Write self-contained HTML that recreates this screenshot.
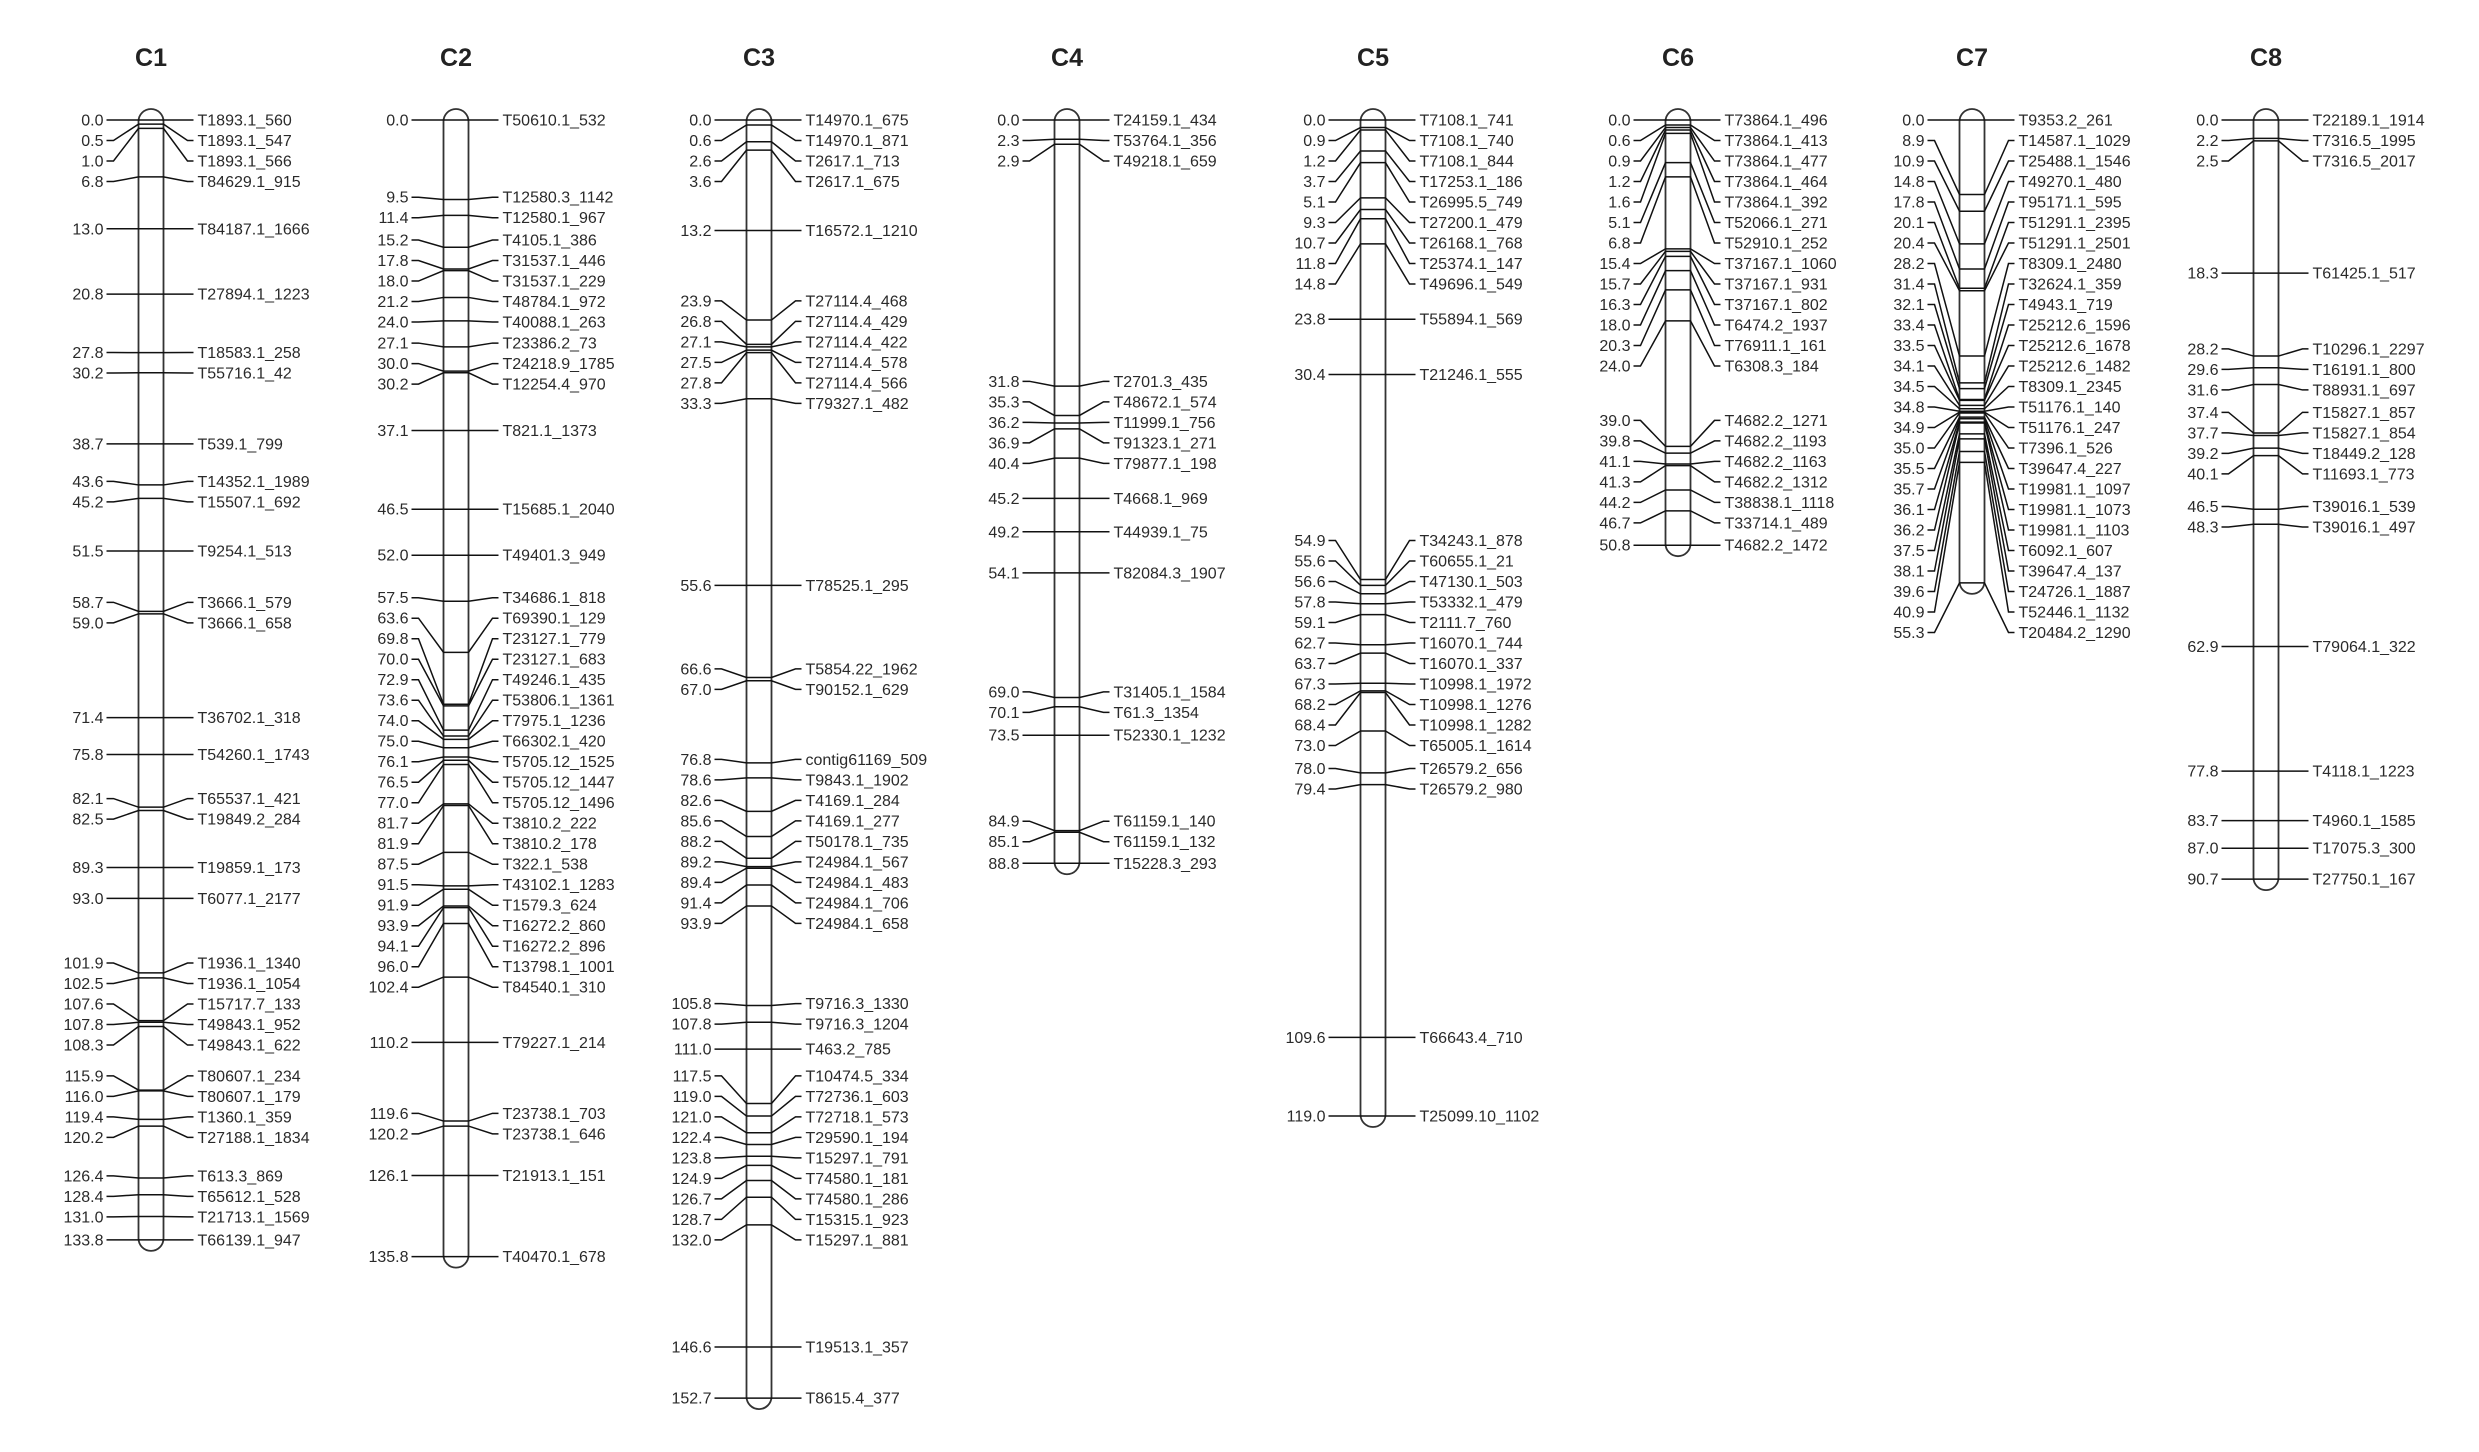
<!DOCTYPE html>
<html><head><meta charset="utf-8"><style>
html,body{margin:0;padding:0;background:#fff;}
svg{display:block;}
text{font-family:"Liberation Sans",Arial,sans-serif;fill:#2a2a2a;}
</style></head><body>
<svg id="s" width="2479" height="1452" viewBox="0 0 2479 1452" xmlns="http://www.w3.org/2000/svg"></svg>
<script>
var D=[
["C1",151,[[0.0,"T1893.1_560"],[0.5,"T1893.1_547"],[1.0,"T1893.1_566"],[6.8,"T84629.1_915"],[13.0,"T84187.1_1666"],[20.8,"T27894.1_1223"],[27.8,"T18583.1_258"],[30.2,"T55716.1_42"],[38.7,"T539.1_799"],[43.6,"T14352.1_1989"],[45.2,"T15507.1_692"],[51.5,"T9254.1_513"],[58.7,"T3666.1_579"],[59.0,"T3666.1_658"],[71.4,"T36702.1_318"],[75.8,"T54260.1_1743"],[82.1,"T65537.1_421"],[82.5,"T19849.2_284"],[89.3,"T19859.1_173"],[93.0,"T6077.1_2177"],[101.9,"T1936.1_1340"],[102.5,"T1936.1_1054"],[107.6,"T15717.7_133"],[107.8,"T49843.1_952"],[108.3,"T49843.1_622"],[115.9,"T80607.1_234"],[116.0,"T80607.1_179"],[119.4,"T1360.1_359"],[120.2,"T27188.1_1834"],[126.4,"T613.3_869"],[128.4,"T65612.1_528"],[131.0,"T21713.1_1569"],[133.8,"T66139.1_947"]]],
["C2",456,[[0.0,"T50610.1_532"],[9.5,"T12580.3_1142"],[11.4,"T12580.1_967"],[15.2,"T4105.1_386"],[17.8,"T31537.1_446"],[18.0,"T31537.1_229"],[21.2,"T48784.1_972"],[24.0,"T40088.1_263"],[27.1,"T23386.2_73"],[30.0,"T24218.9_1785"],[30.2,"T12254.4_970"],[37.1,"T821.1_1373"],[46.5,"T15685.1_2040"],[52.0,"T49401.3_949"],[57.5,"T34686.1_818"],[63.6,"T69390.1_129"],[69.8,"T23127.1_779"],[70.0,"T23127.1_683"],[72.9,"T49246.1_435"],[73.6,"T53806.1_1361"],[74.0,"T7975.1_1236"],[75.0,"T66302.1_420"],[76.1,"T5705.12_1525"],[76.5,"T5705.12_1447"],[77.0,"T5705.12_1496"],[81.7,"T3810.2_222"],[81.9,"T3810.2_178"],[87.5,"T322.1_538"],[91.5,"T43102.1_1283"],[91.9,"T1579.3_624"],[93.9,"T16272.2_860"],[94.1,"T16272.2_896"],[96.0,"T13798.1_1001"],[102.4,"T84540.1_310"],[110.2,"T79227.1_214"],[119.6,"T23738.1_703"],[120.2,"T23738.1_646"],[126.1,"T21913.1_151"],[135.8,"T40470.1_678"]]],
["C3",759,[[0.0,"T14970.1_675"],[0.6,"T14970.1_871"],[2.6,"T2617.1_713"],[3.6,"T2617.1_675"],[13.2,"T16572.1_1210"],[23.9,"T27114.4_468"],[26.8,"T27114.4_429"],[27.1,"T27114.4_422"],[27.5,"T27114.4_578"],[27.8,"T27114.4_566"],[33.3,"T79327.1_482"],[55.6,"T78525.1_295"],[66.6,"T5854.22_1962"],[67.0,"T90152.1_629"],[76.8,"contig61169_509"],[78.6,"T9843.1_1902"],[82.6,"T4169.1_284"],[85.6,"T4169.1_277"],[88.2,"T50178.1_735"],[89.2,"T24984.1_567"],[89.4,"T24984.1_483"],[91.4,"T24984.1_706"],[93.9,"T24984.1_658"],[105.8,"T9716.3_1330"],[107.8,"T9716.3_1204"],[111.0,"T463.2_785"],[117.5,"T10474.5_334"],[119.0,"T72736.1_603"],[121.0,"T72718.1_573"],[122.4,"T29590.1_194"],[123.8,"T15297.1_791"],[124.9,"T74580.1_181"],[126.7,"T74580.1_286"],[128.7,"T15315.1_923"],[132.0,"T15297.1_881"],[146.6,"T19513.1_357"],[152.7,"T8615.4_377"]]],
["C4",1067,[[0.0,"T24159.1_434"],[2.3,"T53764.1_356"],[2.9,"T49218.1_659"],[31.8,"T2701.3_435"],[35.3,"T48672.1_574"],[36.2,"T11999.1_756"],[36.9,"T91323.1_271"],[40.4,"T79877.1_198"],[45.2,"T4668.1_969"],[49.2,"T44939.1_75"],[54.1,"T82084.3_1907"],[69.0,"T31405.1_1584"],[70.1,"T61.3_1354"],[73.5,"T52330.1_1232"],[84.9,"T61159.1_140"],[85.1,"T61159.1_132"],[88.8,"T15228.3_293"]]],
["C5",1373,[[0.0,"T7108.1_741"],[0.9,"T7108.1_740"],[1.2,"T7108.1_844"],[3.7,"T17253.1_186"],[5.1,"T26995.5_749"],[9.3,"T27200.1_479"],[10.7,"T26168.1_768"],[11.8,"T25374.1_147"],[14.8,"T49696.1_549"],[23.8,"T55894.1_569"],[30.4,"T21246.1_555"],[54.9,"T34243.1_878"],[55.6,"T60655.1_21"],[56.6,"T47130.1_503"],[57.8,"T53332.1_479"],[59.1,"T2111.7_760"],[62.7,"T16070.1_744"],[63.7,"T16070.1_337"],[67.3,"T10998.1_1972"],[68.2,"T10998.1_1276"],[68.4,"T10998.1_1282"],[73.0,"T65005.1_1614"],[78.0,"T26579.2_656"],[79.4,"T26579.2_980"],[109.6,"T66643.4_710"],[119.0,"T25099.10_1102"]]],
["C6",1678,[[0.0,"T73864.1_496"],[0.6,"T73864.1_413"],[0.9,"T73864.1_477"],[1.2,"T73864.1_464"],[1.6,"T73864.1_392"],[5.1,"T52066.1_271"],[6.8,"T52910.1_252"],[15.4,"T37167.1_1060"],[15.7,"T37167.1_931"],[16.3,"T37167.1_802"],[18.0,"T6474.2_1937"],[20.3,"T76911.1_161"],[24.0,"T6308.3_184"],[39.0,"T4682.2_1271"],[39.8,"T4682.2_1193"],[41.1,"T4682.2_1163"],[41.3,"T4682.2_1312"],[44.2,"T38838.1_1118"],[46.7,"T33714.1_489"],[50.8,"T4682.2_1472"]]],
["C7",1972,[[0.0,"T9353.2_261"],[8.9,"T14587.1_1029"],[10.9,"T25488.1_1546"],[14.8,"T49270.1_480"],[17.8,"T95171.1_595"],[20.1,"T51291.1_2395"],[20.4,"T51291.1_2501"],[28.2,"T8309.1_2480"],[31.4,"T32624.1_359"],[32.1,"T4943.1_719"],[33.4,"T25212.6_1596"],[33.5,"T25212.6_1678"],[34.1,"T25212.6_1482"],[34.5,"T8309.1_2345"],[34.8,"T51176.1_140"],[34.9,"T51176.1_247"],[35.0,"T7396.1_526"],[35.5,"T39647.4_227"],[35.7,"T19981.1_1097"],[36.1,"T19981.1_1073"],[36.2,"T19981.1_1103"],[37.5,"T6092.1_607"],[38.1,"T39647.4_137"],[39.6,"T24726.1_1887"],[40.9,"T52446.1_1132"],[55.3,"T20484.2_1290"]]],
["C8",2266,[[0.0,"T22189.1_1914"],[2.2,"T7316.5_1995"],[2.5,"T7316.5_2017"],[18.3,"T61425.1_517"],[28.2,"T10296.1_2297"],[29.6,"T16191.1_800"],[31.6,"T88931.1_697"],[37.4,"T15827.1_857"],[37.7,"T15827.1_854"],[39.2,"T18449.2_128"],[40.1,"T11693.1_773"],[46.5,"T39016.1_539"],[48.3,"T39016.1_497"],[62.9,"T79064.1_322"],[77.8,"T4118.1_1223"],[83.7,"T4960.1_1585"],[87.0,"T17075.3_300"],[90.7,"T27750.1_167"]]]
];
var Y0=120,K=8.37,S=20.5,HW=12.5;
var out=[];
function spread(ys){
  var cl=[];
  for(var i=0;i<ys.length;i++){
    var c={s:ys[i],n:1,sum:ys[i]};
    cl.push(c);
    while(cl.length>1){
      var a=cl[cl.length-2],b=cl[cl.length-1];
      if(a.s+a.n*S>b.s){
        var n=a.n+b.n;
        var sum=a.sum+(b.sum-b.n*a.n*S);
        a.sum=sum;a.n=n;a.s=sum/n;
        if(a.s<Y0)a.s=Y0;
        cl.pop();
      } else break;
    }
    var f=cl[0]; if(f.s<Y0)f.s=Y0;
  }
  var r=[];
  cl.forEach(function(c){for(var k=0;k<c.n;k++)r.push(c.s+k*S);});
  return r;
}
D.forEach(function(ch){
  var cx=ch[1],m=ch[2];
  var L=cx-HW,R=cx+HW;
  var yEnd=Y0+K*m[m.length-1][0];
  out.push('<text x="'+cx+'" y="66" text-anchor="middle" style="font-size:25px;font-weight:bold;fill:#222">'+ch[0]+'</text>');
  out.push('<rect x="'+L+'" y="'+(Y0-11)+'" width="'+(2*HW)+'" height="'+(yEnd-Y0+22)+'" rx="12.5" ry="12.5" fill="#fff" stroke="#333" stroke-width="1.8"/>');
  var ts=m.map(function(d){return Y0+K*d[0];});
  var ls=spread(ts);
  for(var i=0;i<m.length;i++){
    var t=ts[i],l=ls[i];
    out.push('<polyline fill="none" stroke="#111" stroke-width="1.5" points="'+(L-32)+','+l+' '+(L-25)+','+l+' '+L+','+t+' '+R+','+t+' '+(R+24)+','+l+' '+(R+30)+','+l+'"/>');
    out.push('<text x="'+(L-35)+'" y="'+(l+5.5)+'" text-anchor="end" style="font-size:16px">'+m[i][0].toFixed(1)+'</text>');
    out.push('<text x="'+(R+34)+'" y="'+(l+5.5)+'" style="font-size:16px">'+m[i][1]+'</text>');
  }
});
document.getElementById('s').innerHTML=out.join('');
</script>
</body></html>
